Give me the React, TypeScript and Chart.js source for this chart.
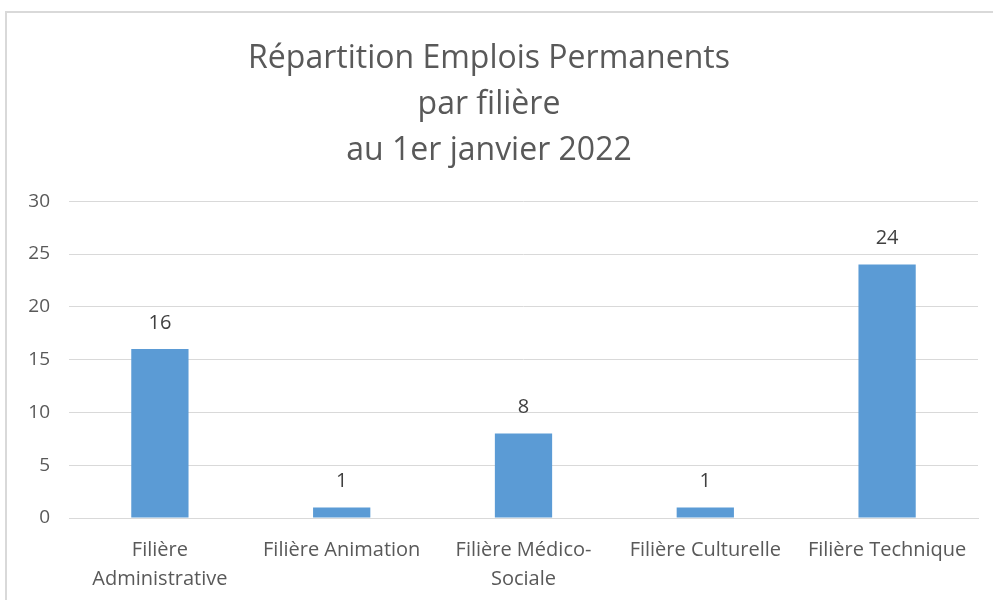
import React, { useEffect, useRef } from "react";
import { Chart, registerables } from "chart.js";

Chart.register(...registerables);

const titleLines = ["Répartition Emplois Permanents", "par filière", "au 1er janvier 2022"];
const categories: (string | string[])[] = [
  ["Filière", "Administrative"],
  "Filière Animation",
  ["Filière Médico-", "Sociale"],
  "Filière Culturelle",
  "Filière Technique",
];
const values = [16, 1, 8, 1, 24];
const yMin = 0;
const yMax = 30;
const yStep = 5;

const FONT = "'Open Sans', Lato, sans-serif";

const valueLabels = {
  id: "valueLabels",
  afterDatasetsDraw(chart: any) {
    const ctx = chart.ctx;
    const meta = chart.getDatasetMeta(0);
    ctx.save();
    ctx.fillStyle = "#404040";
    ctx.font = `20px ${FONT}`;
    ctx.textAlign = "center";
    ctx.textBaseline = "middle";
    meta.data.forEach((bar: any, i: number) => {
      ctx.fillText(String(chart.data.datasets[0].data[i]), bar.x, bar.y - 26);
    });
    ctx.restore();
  },
};

export default function App() {
  const ref = useRef<HTMLCanvasElement>(null);
  useEffect(() => {
    if (!ref.current) return;
    const chart = new Chart(ref.current, {
      type: "bar",
      data: {
        labels: categories,
        datasets: [
          {
            data: values,
            backgroundColor: "#5B9BD5",
            barPercentage: 0.63,
            categoryPercentage: 0.5,
          },
        ],
      },
      plugins: [valueLabels],
      options: {
        responsive: false,
        animation: false,
        layout: { padding: { left: 0, right: 15, top: 0, bottom: 0 } },
        plugins: {
          legend: { display: false },
          tooltip: { enabled: false },
          title: {
            display: true,
            text: titleLines,
            color: "#595959",
            font: { family: FONT, size: 32, weight: "normal", lineHeight: 1.44 },
            padding: { top: 36, bottom: 27 },
          },
        },
        scales: {
          x: {
            grid: { display: false, drawTicks: false },
            border: { display: true, color: "#D9D9D9", width: 1 },
            ticks: {
              color: "#595959",
              font: { family: FONT, size: 20, lineHeight: 1.45 },
              padding: 18,
              maxRotation: 0,
              autoSkip: false,
            },
            afterFit: (scale: any) => {
              scale.height = 82;
            },
          },
          y: {
            min: yMin,
            max: yMax,
            grid: { color: "#D9D9D9", drawTicks: false },
            border: { display: false },
            ticks: {
              stepSize: yStep,
              color: "#595959",
              font: { family: FONT, size: 19 },
              padding: 19,
            },
            afterFit: (scale: any) => {
              scale.width = 69;
            },
          },
        },
      },
    });
    return () => chart.destroy();
  }, []);
  return (
    <div style={{ position: "fixed", left: 0, top: 0, width: 993, height: 600, background: "#fff" }}>
      <div
        style={{
          position: "absolute",
          left: 5,
          top: 11,
          width: 1100,
          height: 700,
          border: "2px solid #D9D9D9",
        }}
      />
      <canvas ref={ref} width={993} height={600} style={{ position: "absolute", left: 0, top: 0 }} />
    </div>
  );
}
